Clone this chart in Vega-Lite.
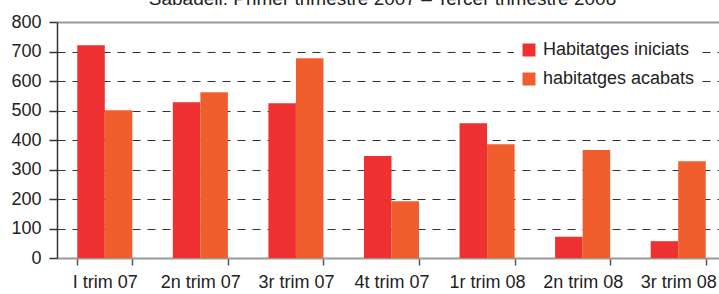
{
  "$schema": "https://vega.github.io/schema/vega-lite/v6.json",
  "width": 669,
  "height": 236,
  "autosize": {"type": "none"},
  "padding": {"left": 57, "top": 22, "right": 0, "bottom": 36},
  "background": "white",
  "title": {"text": "Sabadell. Primer trimestre 2007 – Tercer trimestre 2008", "font": "Liberation Sans", "fontSize": 19, "fontWeight": "normal", "color": "#222", "baseline": "alphabetic", "offset": -11, "anchor": "middle", "dx": -9},
  "config": {"view": {"stroke": null}, "font": "Liberation Sans"},
  "data": {"values": [
    {"trim": "I trim 07", "serie": "Habitatges iniciats", "v": 721},
    {"trim": "I trim 07", "serie": "habitatges acabats", "v": 501},
    {"trim": "2n trim 07", "serie": "Habitatges iniciats", "v": 528},
    {"trim": "2n trim 07", "serie": "habitatges acabats", "v": 562},
    {"trim": "3r trim 07", "serie": "Habitatges iniciats", "v": 525},
    {"trim": "3r trim 07", "serie": "habitatges acabats", "v": 677},
    {"trim": "4t trim 07", "serie": "Habitatges iniciats", "v": 346},
    {"trim": "4t trim 07", "serie": "habitatges acabats", "v": 192},
    {"trim": "1r trim 08", "serie": "Habitatges iniciats", "v": 457},
    {"trim": "1r trim 08", "serie": "habitatges acabats", "v": 386},
    {"trim": "2n trim 08", "serie": "Habitatges iniciats", "v": 72},
    {"trim": "2n trim 08", "serie": "habitatges acabats", "v": 366},
    {"trim": "3r trim 08", "serie": "Habitatges iniciats", "v": 57},
    {"trim": "3r trim 08", "serie": "habitatges acabats", "v": 328}
  ]},
  "mark": {"type": "bar"},
  "encoding": {
    "x": {"field": "trim", "type": "nominal", "sort": null,
      "scale": {"paddingInner": 0.424, "paddingOuter": 0.212},
      "axis": {"title": null, "labelAngle": 0, "labelFontSize": 18, "labelColor": "#222", "tickBand": "extent", "tickSize": 7, "tickColor": "#555", "tickWidth": 1.5, "domainColor": "#999", "domainWidth": 2, "labelPadding": 8}},
    "xOffset": {"field": "serie", "sort": null, "scale": {"paddingInner": 0}},
    "y": {"field": "v", "type": "quantitative", "scale": {"domain": [0, 800]},
      "axis": {"title": null, "values": [0, 100, 200, 300, 400, 500, 600, 700, 800], "labelFontSize": 18, "labelColor": "#222", "labelPadding": 8, "tickSize": 8, "tickColor": "#333", "tickWidth": 1.5, "domainColor": "#333", "domainWidth": 1.5,
        "grid": true,
        "gridDash": {"condition": {"test": "datum.value === 800", "value": []}, "value": [8, 7]},
        "gridColor": {"condition": {"test": "datum.value === 800", "value": "#999"}, "value": "#333"},
        "gridWidth": {"condition": {"test": "datum.value === 800", "value": 2}, "value": 1.2},
        "gridOpacity": {"condition": {"test": "datum.value === 0", "value": 0}, "value": 1}}},
    "color": {"field": "serie", "type": "nominal", "sort": null,
      "scale": {"domain": ["Habitatges iniciats", "habitatges acabats"], "range": ["#EE3130", "#F15E2E"]},
      "legend": {"orient": "none", "legendX": 457, "legendY": 13, "title": null, "symbolType": "square", "symbolSize": 169, "symbolStrokeWidth": 0, "labelFontSize": 18, "labelColor": "#222", "rowPadding": 11, "fillColor": "white", "padding": 6, "labelOffset": 5}}
  }
}
